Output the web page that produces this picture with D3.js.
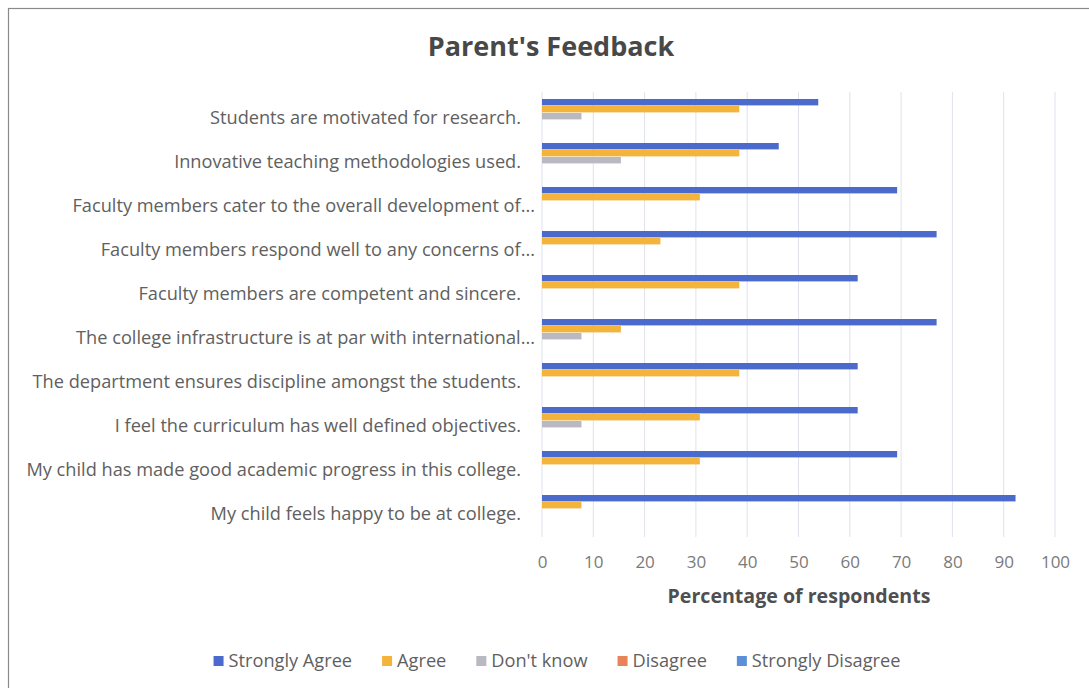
<!DOCTYPE html>
<html><head><meta charset="utf-8">
<script src="https://cdn.jsdelivr.net/npm/d3@7"></script>
<style>body{margin:0;background:#fff;font-family:"Open Sans",sans-serif;}</style>
</head><body>
<svg id="c" width="1089" height="688"></svg>
<script>
const categories = [
  "Students are motivated for research.",
  "Innovative teaching methodologies used.",
  "Faculty members cater to the overall development of...",
  "Faculty members respond well to any concerns of...",
  "Faculty members are competent and sincere.",
  "The college infrastructure is at par with international...",
  "The department ensures discipline amongst the students.",
  "I feel the curriculum has well defined objectives.",
  "My child has made good academic progress in this college.",
  "My child feels happy to be at college."
];
const seriesNames = ["Strongly Agree","Agree","Don't know","Disagree","Strongly Disagree"];
const stronglyAgree = [53.85,46.15,69.23,76.92,61.54,76.92,61.54,61.54,69.23,92.31];
const agree         = [38.46,38.46,30.77,23.08,38.46,15.38,38.46,30.77,30.77,7.69];
const dontKnow      = [7.69,15.38,0,0,0,7.69,0,7.69,0,0];
const disagree      = [0,0,0,0,0,0,0,0,0,0];
const stronglyDisagree = [0,0,0,0,0,0,0,0,0,0];
const xTicks = [0,10,20,30,40,50,60,70,80,90,100];
const colors = ["#4a6bcc","#f4b43c","#b9b9c1","#e8845a","#5b8fd8"];
const seriesValues = [stronglyAgree, agree, dontKnow, disagree, stronglyDisagree];
const FONT = "Open Sans";

const svg = d3.select("#c");
svg.append("rect").attr("x",8.5).attr("y",8.5).attr("width",1090).attr("height",690)
  .attr("fill","#fff").attr("stroke","#8a8a8a").attr("stroke-width",1.2);

const x = d3.scaleLinear().domain([0,100]).range([542,1055]);
const y = d3.scaleBand().domain(categories).range([94.5,534.5]).paddingInner(0.2045).paddingOuter(0.102);
const yi = d3.scaleBand().domain(seriesNames).range([0,y.bandwidth()]);

// gridlines
svg.append("g").selectAll("line").data(xTicks).join("line")
  .attr("x1",d=>x(d)).attr("x2",d=>x(d)).attr("y1",92).attr("y2",537)
  .attr("stroke","#dfe2ec").attr("stroke-width",1);

// bars
const g = svg.append("g");
categories.forEach((c,i)=>{
  seriesNames.forEach((s,j)=>{
    const v = seriesValues[j][i];
    if (v<=0) return;
    g.append("rect").attr("x",x(0)).attr("y",y(c)+yi(s))
      .attr("width",x(v)-x(0)).attr("height",yi.bandwidth()-0.6)
      .attr("fill",colors[j]);
  });
});

// category labels
const yAxis = d3.axisLeft(y).tickSize(0).tickPadding(21);
const ya = svg.append("g").attr("transform",`translate(${x(0)},1.5)`).call(yAxis);
ya.select(".domain").remove();
ya.selectAll("text").attr("font-family",FONT).attr("font-size",18.2).attr("fill","#606060")
  .attr("dx",d=>d.endsWith("...")?14:0);

// x axis
const xAxis = d3.axisBottom(x).tickValues(xTicks).tickSize(0).tickPadding(0);
const xa = svg.append("g").attr("transform","translate(0,556)").call(xAxis);
xa.select(".domain").remove();
xa.selectAll("text").attr("font-family",FONT).attr("font-size",17).attr("fill","#7a7a7a");

// axis title
svg.append("text").attr("x",799).attr("y",603).attr("text-anchor","middle")
  .attr("font-family",FONT).attr("font-weight","bold").attr("font-size",19.6).attr("fill","#4f4f4f")
  .text("Percentage of respondents");

// title
svg.append("text").attr("x",551).attr("y",56).attr("text-anchor","middle")
  .attr("font-family",FONT).attr("font-weight","bold").attr("font-size",27).attr("fill","#484848")
  .text("Parent's Feedback");

// legend
const lg = svg.append("g");
let cx = 0;
const items = [];
seriesNames.forEach((s,j)=>{
  const it = lg.append("g");
  it.append("rect").attr("x",0).attr("y",-10).attr("width",10).attr("height",10).attr("fill",colors[j]);
  const t = it.append("text").attr("x",15).attr("y",0.5).attr("font-family",FONT).attr("font-size",18.2)
    .attr("fill","#5f5f5f").text(s);
  const w = 15 + t.node().getComputedTextLength();
  items.push({it, w});
});
const gap = 30;
const total = items.reduce((a,b)=>a+b.w,0) + gap*(items.length-1);
cx = 557 - total/2;
items.forEach(o=>{ o.it.attr("transform",`translate(${cx},666)`); cx += o.w + gap; });
</script>
</body></html>
